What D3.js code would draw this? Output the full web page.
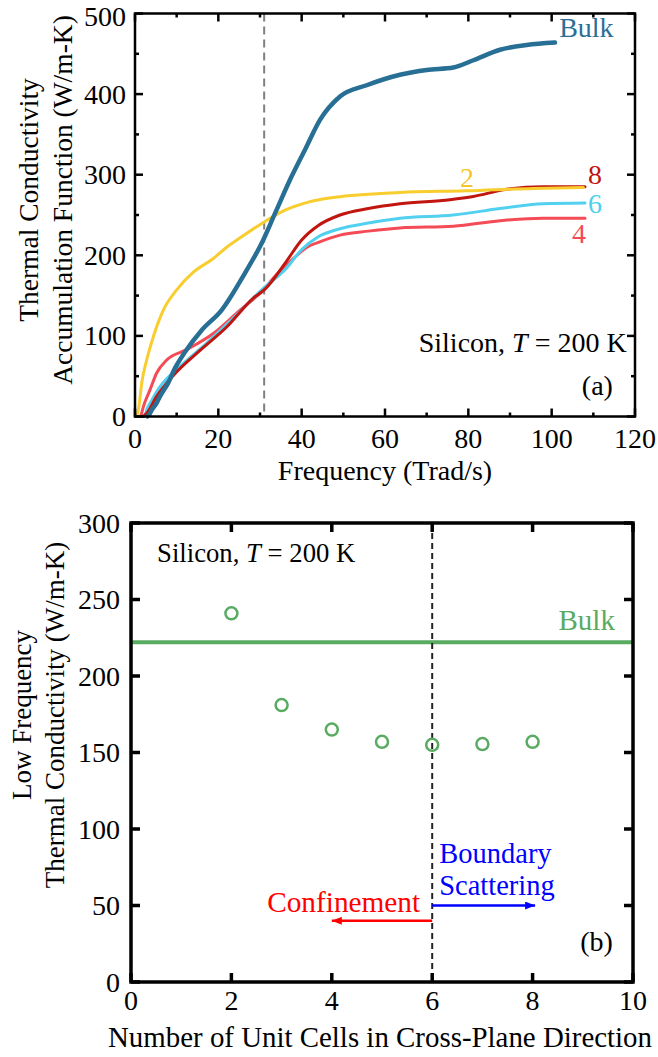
<!DOCTYPE html>
<html>
<head>
<meta charset="utf-8">
<script src="https://cdn.jsdelivr.net/npm/d3@7"></script>
<style>
  body { margin: 0; background: #fff; }
  text { font-family: "Liberation Serif", "Times New Roman", serif; }
</style>
</head>
<body>
<div class="board"></div>
<script>
// ---- data (a): accumulation function vs frequency
const freqBulk = [3, 3.5, 4, 5, 6, 8, 9.6, 12, 16, 20.8, 26.4, 30.4, 33.6, 37.6, 40.8, 44.4, 49.2, 55.6, 63.6, 70, 76.4, 81.2, 87.6, 94, 100.8];
const kBulk    = [0, 3, 8, 15, 25, 42, 60, 80, 107, 132, 178, 215, 252, 298, 331, 368, 397, 411, 424, 430, 433, 442, 455, 461, 464];

const freq2 = [0, 0.4, 1, 1.6, 2.8, 4.4, 6.8, 10, 14, 18.8, 22, 25.6, 31.2, 36, 41.6, 48, 63.6, 79.6, 95.6, 107.6];
const k2    = [0, 1, 15, 41, 70, 99, 132, 157, 179, 196, 210, 223, 242, 256, 266, 272, 278, 280, 283, 284];

const freq4 = [1.4, 2, 3.6, 5.2, 7.6, 12.4, 18.8, 25.2, 30.8, 33.6, 37.6, 41.6, 44, 49.2, 56, 63.6, 76.4, 87.6, 98, 108];
const k4    = [0, 12, 33, 54, 70, 83, 103, 132, 157, 174, 194, 211, 216, 225, 230, 234, 236, 243, 246, 246];

const freq6 = [2.4, 2.8, 4, 6, 10.8, 17.2, 23.6, 30.8, 36, 40, 44, 49.2, 56, 63.6, 76.4, 87.6, 98, 108];
const k6    = [0, 8, 20, 37, 62, 91, 122, 159, 182, 207, 223, 233, 240, 246, 250, 258, 264, 265];

const freq8 = [2, 2.8, 5.2, 9.2, 15.6, 22, 28.4, 31.2, 36, 40, 44, 49.2, 56, 63.6, 75.6, 81.2, 89.2, 98, 108];
const k8    = [0, 4, 25, 51, 82, 111, 147, 158, 190, 219, 237, 250, 258, 264, 269, 273, 282, 285, 285];

const cutoffFreq = 31;
const freqTicks = [0, 20, 40, 60, 80, 100, 120];
const kTicksA = [0, 100, 200, 300, 400, 500];

// ---- data (b): low frequency conductivity vs number of unit cells
const cells = [2, 3, 4, 5, 6, 7, 8];
const kLow = [241, 181, 165, 157, 155, 155.5, 157];
const kLowBulk = 222;
const cellTicks = [0, 2, 4, 6, 8, 10];
const kTicksB = [0, 50, 100, 150, 200, 250, 300];

const FS = 28;
const FS_B = 29.3;   // annotations in (b) are set a bit larger

const svg = d3.select('.board').append('svg')
  .attr('width', 658)
  .attr('height', 1057);

const defs = svg.append('defs');
[['arrRed', '#ff0000'], ['arrBlue', '#0000ff']].forEach(a => {
  defs.append('marker')
    .attr('id', a[0])
    .attr('markerUnits', 'userSpaceOnUse')
    .attr('viewBox', '0 0 10 8')
    .attr('refX', 10).attr('refY', 4)
    .attr('markerWidth', 11).attr('markerHeight', 8)
    .attr('orient', 'auto')
    .append('path')
    .attr('d', 'M0,0 L10,4 L0,8 Z')
    .attr('fill', a[1]);
});

// inward ticks on all four sides
function frame(g, x, y, major, minorX, minorY, sw, tl) {
  const [x0, x1] = x.range();
  const [y0, y1] = y.range();
  const tk = g.append('g').attr('stroke', '#000').attr('stroke-width', sw);
  major.x.forEach(v => {
    tk.append('line').attr('x1', x(v)).attr('x2', x(v)).attr('y1', y0).attr('y2', y0 - tl);
    tk.append('line').attr('x1', x(v)).attr('x2', x(v)).attr('y1', y1).attr('y2', y1 + tl);
  });
  minorX.forEach(v => {
    tk.append('line').attr('x1', x(v)).attr('x2', x(v)).attr('y1', y0).attr('y2', y0 - tl / 2);
    tk.append('line').attr('x1', x(v)).attr('x2', x(v)).attr('y1', y1).attr('y2', y1 + tl / 2);
  });
  major.y.forEach(v => {
    tk.append('line').attr('y1', y(v)).attr('y2', y(v)).attr('x1', x0).attr('x2', x0 + tl);
    tk.append('line').attr('y1', y(v)).attr('y2', y(v)).attr('x1', x1).attr('x2', x1 - tl);
  });
  minorY.forEach(v => {
    tk.append('line').attr('y1', y(v)).attr('y2', y(v)).attr('x1', x0).attr('x2', x0 + tl / 2);
    tk.append('line').attr('y1', y(v)).attr('y2', y(v)).attr('x1', x1).attr('x2', x1 - tl / 2);
  });
  g.append('rect')
    .attr('x', x0).attr('y', y1)
    .attr('width', x1 - x0).attr('height', y0 - y1)
    .attr('fill', 'none').attr('stroke', '#000').attr('stroke-width', sw);
}

function tickLabels(g, x, y, xt, yt, xBase, yPad) {
  g.selectAll(null).data(xt).enter().append('text')
    .text(d => d)
    .attr('x', d => x(d))
    .attr('y', y.range()[0] + xBase)
    .attr('text-anchor', 'middle')
    .attr('font-size', FS);
  g.selectAll(null).data(yt).enter().append('text')
    .text(d => d)
    .attr('x', x.range()[0] - yPad)
    .attr('y', d => Math.max(y(d) + 9.5, 26))
    .attr('text-anchor', 'end')
    .attr('font-size', FS);
}

// ================= panel (a)
const xA = d3.scaleLinear().domain([0, 120]).range([135, 635]);
const yA = d3.scaleLinear().domain([0, 500]).range([416.5, 13.5]);
const gA = svg.append('g');

gA.append('line')
  .attr('x1', xA(cutoffFreq)).attr('x2', xA(cutoffFreq))
  .attr('y1', yA(500)).attr('y2', yA(0))
  .attr('stroke', '#808080').attr('stroke-width', 2)
  .attr('stroke-dasharray', '8,5');

const lineA = d3.line()
  .x(d => xA(d[0]))
  .y(d => yA(d[1]))
  .curve(d3.curveMonotoneX);

const seriesA = [
  { f: freq4, k: k4, color: '#f54b56', w: 3 },
  { f: freq6, k: k6, color: '#52d0ef', w: 3 },
  { f: freq8, k: k8, color: '#c1150f', w: 3 },
  { f: freq2, k: k2, color: '#f8cd2e', w: 3 },
  { f: freqBulk, k: kBulk, color: '#276f94', w: 4.5 }
];
seriesA.forEach(s => {
  gA.append('path')
    .datum(s.f.map((f, i) => [f, s.k[i]]))
    .attr('d', lineA)
    .attr('fill', 'none')
    .attr('stroke', s.color)
    .attr('stroke-width', s.w)
    .attr('stroke-linecap', 'round')
    .attr('stroke-linejoin', 'round');
});

frame(gA, xA, yA, { x: freqTicks, y: kTicksA },
  d3.range(10, 120, 20), d3.range(50, 500, 100), 2.5, 8);
tickLabels(gA, xA, yA, freqTicks, kTicksA, 31.5, 9);

const labA = [
  { t: 'Bulk', f: 101.8, k: 471, c: '#2b6f96' },
  { t: '2', f: 78, k: 285, c: '#f5c52a' },
  { t: '8', f: 108.7, k: 289, c: '#c0160e' },
  { t: '6', f: 108.7, k: 252.5, c: '#4dd0ee' },
  { t: '4', f: 104.9, k: 215, c: '#f24a55' }
];
labA.forEach(l => {
  gA.append('text').text(l.t)
    .attr('x', xA(l.f)).attr('y', yA(l.k))
    .attr('fill', l.c).attr('font-size', FS);
});

const silA = gA.append('text')
  .attr('x', xA(118)).attr('y', yA(80.4))
  .attr('text-anchor', 'end').attr('font-size', FS);
silA.append('tspan').text('Silicon, ');
silA.append('tspan').text('T').attr('font-style', 'italic');
silA.append('tspan').text(' = 200 K');

gA.append('text').text('(a)')
  .attr('x', xA(114.7)).attr('y', yA(26.7))
  .attr('text-anchor', 'end').attr('font-size', FS);

gA.append('text').text('Frequency (Trad/s)')
  .attr('x', (xA(0) + xA(120)) / 2).attr('y', 480)
  .attr('text-anchor', 'middle').attr('font-size', FS);

const ytA = gA.append('text')
  .attr('transform', 'translate(0,200) rotate(-90)')
  .attr('text-anchor', 'middle').attr('font-size', 27.5);
ytA.append('tspan').text('Thermal Conductivity').attr('x', 0).attr('y', 38);
ytA.append('tspan').text('Accumulation Function (W/m-K)').attr('x', 0).attr('y', 72);

// ================= panel (b)
const xB = d3.scaleLinear().domain([0, 10]).range([131, 633]);
const yB = d3.scaleLinear().domain([0, 300]).range([982, 523]);
const gB = svg.append('g');

gB.append('line')
  .attr('x1', xB(0)).attr('x2', xB(10))
  .attr('y1', yB(kLowBulk)).attr('y2', yB(kLowBulk))
  .attr('stroke', '#5aab62').attr('stroke-width', 4);

gB.append('line')
  .attr('x1', xB(6)).attr('x2', xB(6))
  .attr('y1', yB(300)).attr('y2', yB(0))
  .attr('stroke', '#222').attr('stroke-width', 2)
  .attr('stroke-dasharray', '6,4');

gB.selectAll('circle').data(cells).enter().append('circle')
  .attr('cx', d => xB(d))
  .attr('cy', (d, i) => yB(kLow[i]))
  .attr('r', 6)
  .attr('fill', 'none')
  .attr('stroke', '#5aab62')
  .attr('stroke-width', 2.5);

gB.append('line')
  .attr('x1', xB(6)).attr('x2', xB(4))
  .attr('y1', yB(40)).attr('y2', yB(40))
  .attr('stroke', '#ff0000').attr('stroke-width', 2.5)
  .attr('marker-end', 'url(#arrRed)');
gB.append('line')
  .attr('x1', xB(6)).attr('x2', xB(8.05))
  .attr('y1', yB(50)).attr('y2', yB(50))
  .attr('stroke', '#0000ff').attr('stroke-width', 2.5)
  .attr('marker-end', 'url(#arrBlue)');

frame(gB, xB, yB, { x: cellTicks, y: kTicksB }, [], [], 3.5, 9);
tickLabels(gB, xB, yB, cellTicks, kTicksB, 28, 11);

const silB = gB.append('text')
  .attr('x', xB(0.52)).attr('y', yB(274.7))
  .attr('font-size', 26.7);
silB.append('tspan').text('Silicon, ');
silB.append('tspan').text('T').attr('font-style', 'italic');
silB.append('tspan').text(' = 200 K');

gB.append('text').text('Bulk')
  .attr('x', xB(9.64)).attr('y', yB(230))
  .attr('text-anchor', 'end')
  .attr('fill', '#5aab62').attr('font-size', 29);

gB.append('text').text('Confinement')
  .attr('x', xB(5.76)).attr('y', yB(46))
  .attr('text-anchor', 'end')
  .attr('fill', '#ff0000').attr('font-size', FS_B);

const bnd = gB.append('text')
  .attr('fill', '#0000ff').attr('font-size', 28.5);
bnd.append('tspan').text('Boundary')
  .attr('x', xB(6.14)).attr('y', yB(77.8));
bnd.append('tspan').text('Scattering')
  .attr('x', xB(6.14)).attr('y', yB(56.9));

gB.append('text').text('(b)')
  .attr('x', xB(9.6)).attr('y', yB(20.4))
  .attr('text-anchor', 'end').attr('font-size', FS);

gB.append('text').text('Number of Unit Cells in Cross-Plane Direction')
  .attr('x', (xB(0) + xB(10)) / 2 - 2).attr('y', 1047)
  .attr('text-anchor', 'middle').attr('font-size', 28.9);

const ytB = gB.append('text')
  .attr('transform', 'translate(0,715) rotate(-90)')
  .attr('text-anchor', 'middle').attr('font-size', 27);
ytB.append('tspan').text('Low Frequency').attr('x', 0).attr('y', 31);
ytB.append('tspan').text('Thermal Conductivity (W/m-K)').attr('x', 0).attr('y', 64);
</script>
</body>
</html>
